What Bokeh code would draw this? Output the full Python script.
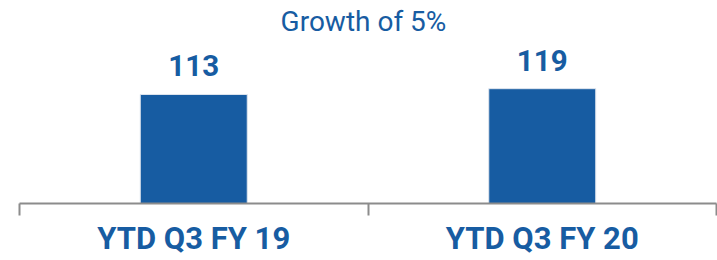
from bokeh.plotting import figure
from bokeh.models import Range1d, LinearAxis, FixedTicker, ColumnDataSource, LabelSet, Label
from bokeh.core.properties import value
from bokeh.embed import file_html
from bokeh.resources import INLINE

# ---- data ----
title_text = "Growth of 5%"
categories = ["YTD Q3 FY 19", "YTD Q3 FY 20"]
values = [113, 119]
value_labels = [str(v) for v in values]

BLUE = "#175CA2"
GRAY = "#8c8c8c"
FONT = "Roboto"

xs = [i + 0.5 for i in range(len(categories))]
src = ColumnDataSource(dict(x=xs, v=values, lab=value_labels))

p = figure(width=717, height=260, output_backend="svg", toolbar_location=None,
           x_range=Range1d(0, len(categories)), y_range=Range1d(0, 210.4),
           x_axis_location=None, y_axis_location=None,
           min_border_left=19, min_border_right=1, min_border_top=0,
           min_border_bottom=57)
p.outline_line_color = None
p.background_fill_color = "white"
p.border_fill_color = "white"
p.grid.visible = False

ax = LinearAxis(ticker=FixedTicker(ticks=xs, minor_ticks=list(range(len(categories) + 1))),
                major_label_overrides={x: c for x, c in zip(xs, categories)},
                axis_line_color=GRAY, axis_line_width=2,
                major_tick_line_color=None, major_tick_in=0, major_tick_out=0,
                minor_tick_line_color=GRAY, minor_tick_line_width=2,
                minor_tick_in=0, minor_tick_out=12,
                major_label_standoff=4,
                major_label_text_font=FONT, major_label_text_font_style="bold",
                major_label_text_font_size="31px", major_label_text_color=BLUE)
p.add_layout(ax, "below")

p.vbar(x="x", top="v", bottom=0, width=0.307, source=src,
       fill_color=BLUE, line_color="#dfe5ee", line_width=1)

vals = LabelSet(x="x", y="v", text="lab", source=src, y_offset=18,
                text_align="center", text_baseline="alphabetic",
                text_font=value(FONT), text_font_style="bold",
                text_font_size="29.5px", text_color=BLUE)
p.add_layout(vals)

ttl = Label(x=0.987, y=178, y_offset=10, text=title_text,
            text_align="center", text_baseline="alphabetic",
            text_font=FONT, text_font_size="28px", text_color=BLUE)
p.add_layout(ttl)

open("out.html", "w").write(file_html(p, INLINE))
